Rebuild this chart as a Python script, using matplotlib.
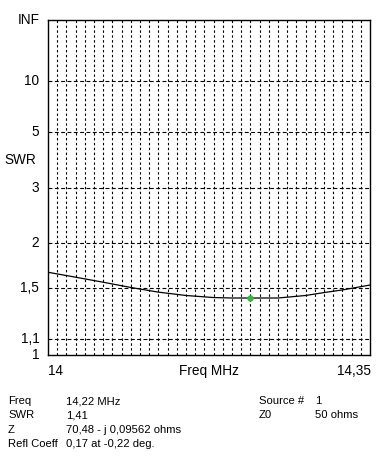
import numpy as np
import matplotlib.pyplot as plt

# SWR sweep
freq = [14.00, 14.03, 14.06, 14.09, 14.12, 14.15, 14.18, 14.20, 14.22, 14.25, 14.28, 14.30, 14.32, 14.35]
swr = [1.656, 1.605, 1.555, 1.505, 1.462, 1.432, 1.414, 1.410, 1.410, 1.410, 1.432, 1.458, 1.482, 1.528]
marker_f = 14.22
marker_swr = 1.41

swr_ticks = [1.1, 1.5, 2, 3, 5, 10]
swr_labels = ['1,1', '1,5', '2', '3', '5', '10']

info_left = [('Freq', '14,22 MHz'), ('SWR', '1,41'), ('Z', '70,48 - j 0,09562 ohms'),
             ('Refl Coeff', '0,17 at -0,22 deg.')]
info_right = [('Source #', '1'), ('Z0', '50 ohms')]


def rho(s):
    s = np.asarray(s, dtype=float)
    return (s - 1) / (s + 1)


plt.rcParams['font.family'] = ['Liberation Sans', 'DejaVu Sans']
fs = 8.1
fl = 9.8
W, H = 391, 458
fig = plt.figure(figsize=(W / 100, H / 100), dpi=100)
ax = fig.add_axes([48 / W, (H - 355) / H, 322 / W, 335 / H])
ax.set_xlim(14, 14.35)
ax.set_ylim(0, 1)

lw = 0.8
for s in swr_ticks:
    ax.axhline(rho(s), color='k', lw=lw, dashes=(3.5, 2.2))
for f in np.arange(14.01, 14.345, 0.01):
    ax.axvline(f, color='k', lw=lw, dashes=(2.2, 2.2))

ax.plot(freq, rho(swr), color='k', lw=0.9)
ax.plot([marker_f], [rho(marker_swr)], marker='o', ms=3.5, color='#3cb43c', mec='#3cb43c')

for sp in ax.spines.values():
    sp.set_linewidth(1.0)
ax.set_xticks([])
ax.set_yticks([])

yl = list(rho(swr_ticks)) + [0, 1]
for v, t in zip(yl, swr_labels + ['1', 'INF']):
    ax.text(-0.027, v, t, transform=ax.get_yaxis_transform(), ha='right', va='center', fontsize=fl)
fig.text(4 / W, 1 - 160 / H, 'SWR', ha='left', va='center', fontsize=fl)

ty = 1 - 371 / H
fig.text(48 / W, ty, '14', ha='left', va='center', fontsize=fl)
fig.text(209 / W, ty, 'Freq MHz', ha='center', va='center', fontsize=fl)
fig.text(371 / W, ty, '14,35', ha='right', va='center', fontsize=fl)

for i, (a, b) in enumerate(info_left):
    y = 1 - (401 + i * 14.3) / H
    fig.text(8 / W, y, a, ha='left', va='center', fontsize=fs)
    fig.text(66 / W, y, b, ha='left', va='center', fontsize=fs)
for i, (a, b) in enumerate(info_right):
    y = 1 - (401 + i * 14.3) / H
    fig.text(259 / W, y, a, ha='left', va='center', fontsize=fs)
    fig.text(315 / W, y, b, ha='left', va='center', fontsize=fs)

fig.savefig('out.png', dpi=100)
